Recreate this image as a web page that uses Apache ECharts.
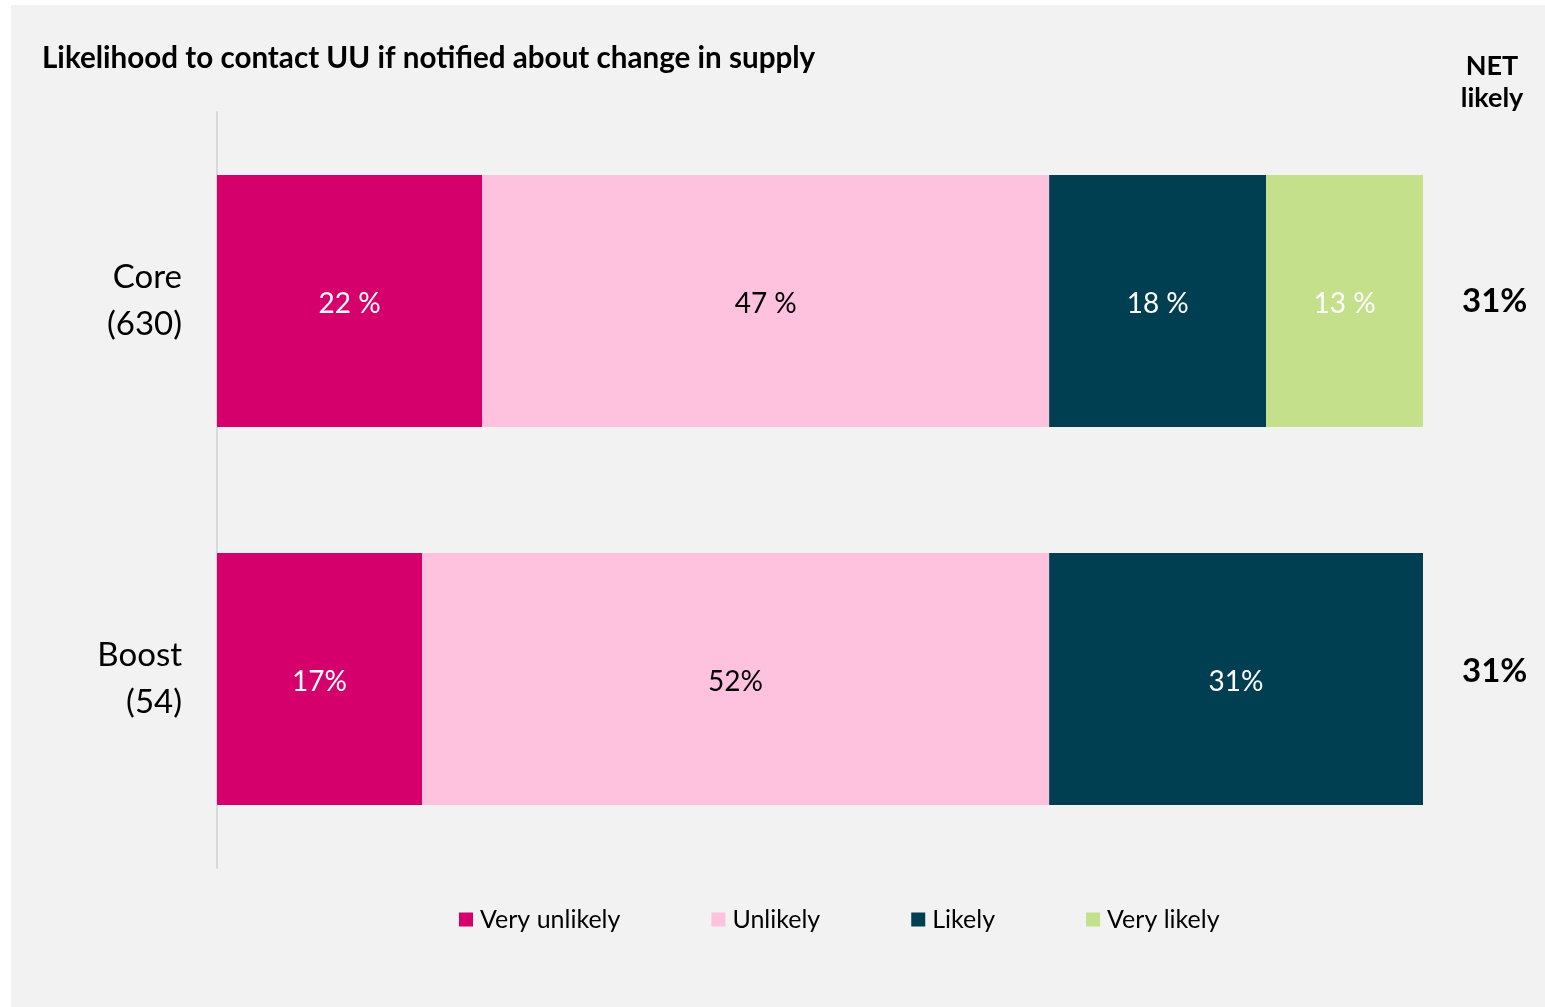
<!DOCTYPE html>
<html>
<head>
<meta charset="utf-8">
<script src="https://cdn.jsdelivr.net/npm/echarts@6/dist/echarts.min.js"></script>
<style>
  html, body { margin: 0; padding: 0; background: #ffffff; }
  #main {
    position: absolute;
    left: 11px;
    top: 5px;
    width: 1534px;
    height: 1002px;
    background: #f2f2f2;
  }
</style>
</head>
<body>
<div id="main"></div>
<script>
// groups (top to bottom) and their base sizes
const groups = ["Core\n(630)", "Boost\n(54)"];
const seriesNames = ["Very unlikely", "Unlikely", "Likely", "Very likely"];
const veryUnlikely = [22, 17];
const unlikely = [47, 52];
const likely = [18, 31];
const veryLikely = [13, null];
const netLikely = ["31%", "31%"];
const labelSuffix = [" %", "%"]; // core labels were typed with a space

const colors = ["#d6006d", "#fec1de", "#003f51", "#c5e08b"];
const labelColors = ["#ffffff", "#000000", "#ffffff", "#ffffff"];
const font = "Lato, 'Open Sans', sans-serif";

let myChart = echarts.init(document.getElementById("main"));

const values = [veryUnlikely, unlikely, likely, veryLikely];
const series = seriesNames.map(function (name, i) {
  return {
    name: name,
    type: "bar",
    stack: "total",
    barWidth: 252,
    data: values[i],
    itemStyle: { color: colors[i] },
    label: {
      show: true,
      position: "inside",
      offset: [0, 3],
      color: labelColors[i],
      fontFamily: font,
      fontSize: 28,
      formatter: function (p) {
        return p.value + labelSuffix[p.dataIndex];
      },
    },
  };
});

myChart.setOption({
  animation: false,
  textStyle: { fontFamily: font },
  title: {
    text: "Likelihood to contact UU if notified about change in supply",
    left: 26,
    top: 33,
    textStyle: { color: "#000", fontSize: 29.6, fontWeight: "bold", fontFamily: font },
  },
  graphic: [
    {
      type: "text",
      x: 1481,
      y: 45,
      style: {
        text: "NET\nlikely",
        fill: "#000",
        font: "bold 27px " + font,
        lineHeight: 32,
        align: "center",
      },
    },
  ],
  grid: {
    left: 206,
    top: 107,
    width: 1206,
    height: 756,
  },
  legend: {
    left: 443,
    top: 897,
    itemWidth: 14,
    itemHeight: 14,
    itemGap: 91,
    icon: "rect",
    data: seriesNames,
    textStyle: { color: "#000", fontSize: 25, fontFamily: font, padding: [0, 0, 0, 2] },
  },
  xAxis: {
    type: "value",
    min: 0,
    max: 100,
    show: false,
  },
  yAxis: [
    {
      type: "category",
      inverse: true,
      data: groups,
      axisLine: { show: true, lineStyle: { color: "#d9d9d9", width: 2 } },
      axisTick: { show: false },
      axisLabel: {
        margin: 35,
        color: "#000",
        fontSize: 33,
        lineHeight: 47,
        align: "right",
        fontFamily: font,
      },
    },
    {
      type: "category",
      inverse: true,
      position: "right",
      data: netLikely,
      axisLine: { show: false },
      axisTick: { show: false },
      axisLabel: {
        margin: 39,
        color: "#000",
        fontSize: 33,
        fontWeight: "bold",
        fontFamily: font,
        formatter: function (v, i) {
          return i === 1 ? "{up|" + v + "}" : "{n|" + v + "}";
        },
        rich: {
          n: { fontSize: 33, fontWeight: "bold", fontFamily: font, padding: [0, 0, 0, 0] },
          up: { fontSize: 33, fontWeight: "bold", fontFamily: font, padding: [0, 0, 16, 0] },
        },
      },
    },
  ],
  series: series,
});
</script>
</body>
</html>
